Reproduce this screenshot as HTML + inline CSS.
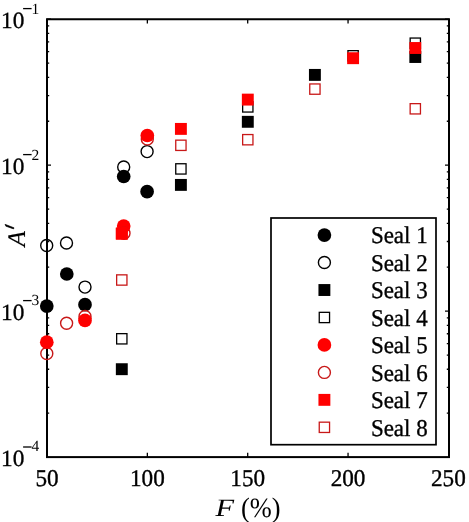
<!DOCTYPE html>
<html><head><meta charset="utf-8"><style>
html,body{margin:0;padding:0;background:#fff;width:469px;height:522px;overflow:hidden}
svg{display:block;will-change:transform;text-rendering:geometricPrecision}
.t{font-family:"Liberation Serif",serif;font-size:24px;fill:#000;stroke:#000;stroke-width:0.35px}
.s{font-family:"Liberation Serif",serif;font-size:15.5px;fill:#000}
</style></head><body>
<svg width="469" height="522" viewBox="0 0 469 522">
<rect x="47.0" y="19.25" width="402.0" height="437.85" fill="none" stroke="#000" stroke-width="2"/>
<path d="M147.35 457.1V452.80M147.35 19.25V23.55M247.70 457.1V452.80M247.70 19.25V23.55M348.05 457.1V452.80M348.05 19.25V23.55M47.0 413.16H49.20M449.0 413.16H446.80M47.0 387.46H49.20M449.0 387.46H446.80M47.0 369.23H49.20M449.0 369.23H446.80M47.0 355.09H49.20M449.0 355.09H446.80M47.0 343.53H49.20M449.0 343.53H446.80M47.0 333.76H49.20M449.0 333.76H446.80M47.0 325.29H49.20M449.0 325.29H446.80M47.0 317.83H49.20M449.0 317.83H446.80M47.0 311.15H51.00M449.0 311.15H445.00M47.0 267.21H49.20M449.0 267.21H446.80M47.0 241.51H49.20M449.0 241.51H446.80M47.0 223.28H49.20M449.0 223.28H446.80M47.0 209.14H49.20M449.0 209.14H446.80M47.0 197.58H49.20M449.0 197.58H446.80M47.0 187.81H49.20M449.0 187.81H446.80M47.0 179.34H49.20M449.0 179.34H446.80M47.0 171.88H49.20M449.0 171.88H446.80M47.0 165.20H51.00M449.0 165.20H445.00M47.0 121.26H49.20M449.0 121.26H446.80M47.0 95.56H49.20M449.0 95.56H446.80M47.0 77.33H49.20M449.0 77.33H446.80M47.0 63.19H49.20M449.0 63.19H446.80M47.0 51.63H49.20M449.0 51.63H446.80M47.0 41.86H49.20M449.0 41.86H446.80M47.0 33.39H49.20M449.0 33.39H446.80M47.0 25.93H49.20M449.0 25.93H446.80M47.0 19.25H51.00M449.0 19.25H445.00" stroke="#000" stroke-width="1.3" fill="none"/>
<circle cx="46.8" cy="306.1" r="6.85" fill="#000"/>
<circle cx="66.8" cy="274.0" r="6.85" fill="#000"/>
<circle cx="85.0" cy="304.7" r="6.85" fill="#000"/>
<circle cx="123.7" cy="176.5" r="6.85" fill="#000"/>
<circle cx="147.1" cy="191.7" r="6.85" fill="#000"/>
<circle cx="46.7" cy="245.5" r="6.0" fill="none" stroke="#000" stroke-width="1.4"/>
<circle cx="66.5" cy="243.0" r="6.0" fill="none" stroke="#000" stroke-width="1.4"/>
<circle cx="85.0" cy="287.1" r="6.0" fill="none" stroke="#000" stroke-width="1.4"/>
<circle cx="123.7" cy="167.0" r="6.0" fill="none" stroke="#000" stroke-width="1.4"/>
<circle cx="147.1" cy="151.6" r="6.0" fill="none" stroke="#000" stroke-width="1.4"/>
<rect x="115.85" y="363.25" width="11.9" height="11.9" fill="#000"/>
<rect x="174.95" y="178.95" width="11.9" height="11.9" fill="#000"/>
<rect x="241.85" y="115.85" width="11.9" height="11.9" fill="#000"/>
<rect x="308.95" y="68.95" width="11.9" height="11.9" fill="#000"/>
<rect x="409.35" y="51.05" width="11.9" height="11.9" fill="#000"/>
<rect x="116.65" y="333.65" width="10.3" height="10.3" fill="none" stroke="#000" stroke-width="1.3"/>
<rect x="175.75" y="163.75" width="10.3" height="10.3" fill="none" stroke="#000" stroke-width="1.3"/>
<rect x="242.65" y="101.75" width="10.3" height="10.3" fill="none" stroke="#000" stroke-width="1.3"/>
<rect x="347.95" y="50.65" width="10.3" height="10.3" fill="none" stroke="#000" stroke-width="1.3"/>
<rect x="410.15" y="38.05" width="10.3" height="10.3" fill="none" stroke="#000" stroke-width="1.3"/>
<circle cx="46.8" cy="342.2" r="6.85" fill="#ff0000"/>
<circle cx="85.0" cy="320.4" r="6.85" fill="#ff0000"/>
<circle cx="123.7" cy="226.05" r="6.85" fill="#ff0000"/>
<circle cx="147.3" cy="135.5" r="6.85" fill="#ff0000"/>
<circle cx="46.8" cy="353.5" r="6.0" fill="none" stroke="#c81818" stroke-width="1.4"/>
<circle cx="66.6" cy="323.3" r="6.0" fill="none" stroke="#c81818" stroke-width="1.4"/>
<circle cx="85.0" cy="316.5" r="6.0" fill="none" stroke="#c81818" stroke-width="1.4"/>
<circle cx="124.0" cy="233.2" r="6.0" fill="none" stroke="#c81818" stroke-width="1.4"/>
<circle cx="147.3" cy="138.9" r="6.0" fill="none" stroke="#c81818" stroke-width="1.4"/>
<rect x="115.85" y="227.65" width="11.9" height="11.9" fill="#ff0000"/>
<rect x="174.95" y="122.95" width="11.9" height="11.9" fill="#ff0000"/>
<rect x="241.85" y="93.65" width="11.9" height="11.9" fill="#ff0000"/>
<rect x="347.15" y="52.25" width="11.9" height="11.9" fill="#ff0000"/>
<rect x="409.35" y="42.05" width="11.9" height="11.9" fill="#ff0000"/>
<rect x="116.65" y="274.85" width="10.3" height="10.3" fill="none" stroke="#c81818" stroke-width="1.3"/>
<rect x="175.75" y="140.15" width="10.3" height="10.3" fill="none" stroke="#c81818" stroke-width="1.3"/>
<rect x="242.65" y="134.55" width="10.3" height="10.3" fill="none" stroke="#c81818" stroke-width="1.3"/>
<rect x="309.75" y="83.95" width="10.3" height="10.3" fill="none" stroke="#c81818" stroke-width="1.3"/>
<rect x="410.15" y="103.65" width="10.3" height="10.3" fill="none" stroke="#c81818" stroke-width="1.3"/>
<clipPath id="c85"><circle cx="85.0" cy="320.4" r="6.85"/></clipPath>
<clipPath id="c123"><circle cx="123.7" cy="226.05" r="6.85"/></clipPath>
<clipPath id="c147"><circle cx="147.3" cy="135.5" r="6.85"/></clipPath>
<clipPath id="c46"><circle cx="46.8" cy="342.2" r="6.85"/></clipPath>
<g clip-path="url(#c46)"><circle cx="46.8" cy="353.5" r="6.0" fill="none" stroke="#f00" stroke-width="1.6"/></g>
<g clip-path="url(#c85)"><circle cx="85.0" cy="316.5" r="6.0" fill="none" stroke="#f00" stroke-width="1.6"/></g>
<g clip-path="url(#c147)"><circle cx="147.3" cy="138.9" r="6.0" fill="none" stroke="#f00" stroke-width="1.6"/></g>
<g clip-path="url(#c123)"><circle cx="124.0" cy="233.2" r="6.0" fill="none" stroke="#f00" stroke-width="1.6"/></g>
<rect x="115.85" y="227.65" width="11.9" height="11.9" fill="#ff0000"/>
<rect x="271" y="218" width="165" height="226.7" fill="#fff" stroke="#000" stroke-width="1.7"/>
<circle cx="324.4" cy="235.1" r="6.85" fill="#000"/>
<text x="370.9" y="243.30" class="t" textLength="56.8" lengthAdjust="spacingAndGlyphs">Seal 1</text>
<circle cx="324.4" cy="262.56" r="6.0" fill="none" stroke="#000" stroke-width="1.4"/>
<text x="370.9" y="270.76" class="t" textLength="56.8" lengthAdjust="spacingAndGlyphs">Seal 2</text>
<rect x="318.45" y="284.07" width="11.9" height="11.9" fill="#000"/>
<text x="370.9" y="298.22" class="t" textLength="56.8" lengthAdjust="spacingAndGlyphs">Seal 3</text>
<rect x="319.25" y="312.33" width="10.3" height="10.3" fill="none" stroke="#000" stroke-width="1.3"/>
<text x="370.9" y="325.68" class="t" textLength="56.8" lengthAdjust="spacingAndGlyphs">Seal 4</text>
<circle cx="324.4" cy="344.94" r="6.85" fill="#ff0000"/>
<text x="370.9" y="353.14" class="t" textLength="56.8" lengthAdjust="spacingAndGlyphs">Seal 5</text>
<circle cx="324.4" cy="372.4" r="6.0" fill="none" stroke="#c81818" stroke-width="1.4"/>
<text x="370.9" y="380.60" class="t" textLength="56.8" lengthAdjust="spacingAndGlyphs">Seal 6</text>
<rect x="318.45" y="393.91" width="11.9" height="11.9" fill="#ff0000"/>
<text x="370.9" y="408.06" class="t" textLength="56.8" lengthAdjust="spacingAndGlyphs">Seal 7</text>
<rect x="319.25" y="422.17" width="10.3" height="10.3" fill="none" stroke="#c81818" stroke-width="1.3"/>
<text x="370.9" y="435.52" class="t" textLength="56.8" lengthAdjust="spacingAndGlyphs">Seal 8</text>
<text x="35.42" y="485.8" class="t" textLength="23.16" lengthAdjust="spacingAndGlyphs">50</text>
<text x="129.98" y="485.8" class="t" textLength="34.74" lengthAdjust="spacingAndGlyphs">100</text>
<text x="230.33" y="485.8" class="t" textLength="34.74" lengthAdjust="spacingAndGlyphs">150</text>
<text x="330.68" y="485.8" class="t" textLength="34.74" lengthAdjust="spacingAndGlyphs">200</text>
<text x="431.03" y="485.8" class="t" textLength="34.74" lengthAdjust="spacingAndGlyphs">250</text>
<text x="1.0" y="27.55" class="t" style="font-size:23.3px">10</text>
<rect x="23.1" y="7.95" width="8.5" height="1.3" fill="#000"/>
<text x="31.4" y="13.55" class="s">1</text>
<text x="1.0" y="173.55" class="t" style="font-size:23.3px">10</text>
<rect x="23.1" y="153.95" width="8.5" height="1.3" fill="#000"/>
<text x="31.4" y="159.50" class="s">2</text>
<text x="1.0" y="319.50" class="t" style="font-size:23.3px">10</text>
<rect x="23.1" y="299.95" width="8.5" height="1.3" fill="#000"/>
<text x="31.4" y="305.45" class="s">3</text>
<text x="1.0" y="465.85" class="t" style="font-size:23.3px">10</text>
<rect x="23.1" y="446.35" width="8.5" height="1.3" fill="#000"/>
<text x="31.4" y="451.40" class="s">4</text>
<text x="215.6" y="515.8" class="t" style="font-style:italic;font-size:25px;stroke-width:0px" textLength="18.6" lengthAdjust="spacingAndGlyphs">F</text>
<text x="241" y="516.6" class="t" style="font-size:28px;stroke-width:0px" textLength="39.6" lengthAdjust="spacingAndGlyphs">(%)</text>
<text transform="translate(24.6,246.6) rotate(-90)" class="t" style="font-style:italic;font-size:25.3px;stroke-width:0.1px">A</text>
<path d="M5.0 224.3L5.9 226.2L13.6 228.9L14.0 227.8Z" fill="#000" stroke="#000" stroke-width="0.6" stroke-linejoin="round"/>
</svg>
</body></html>
